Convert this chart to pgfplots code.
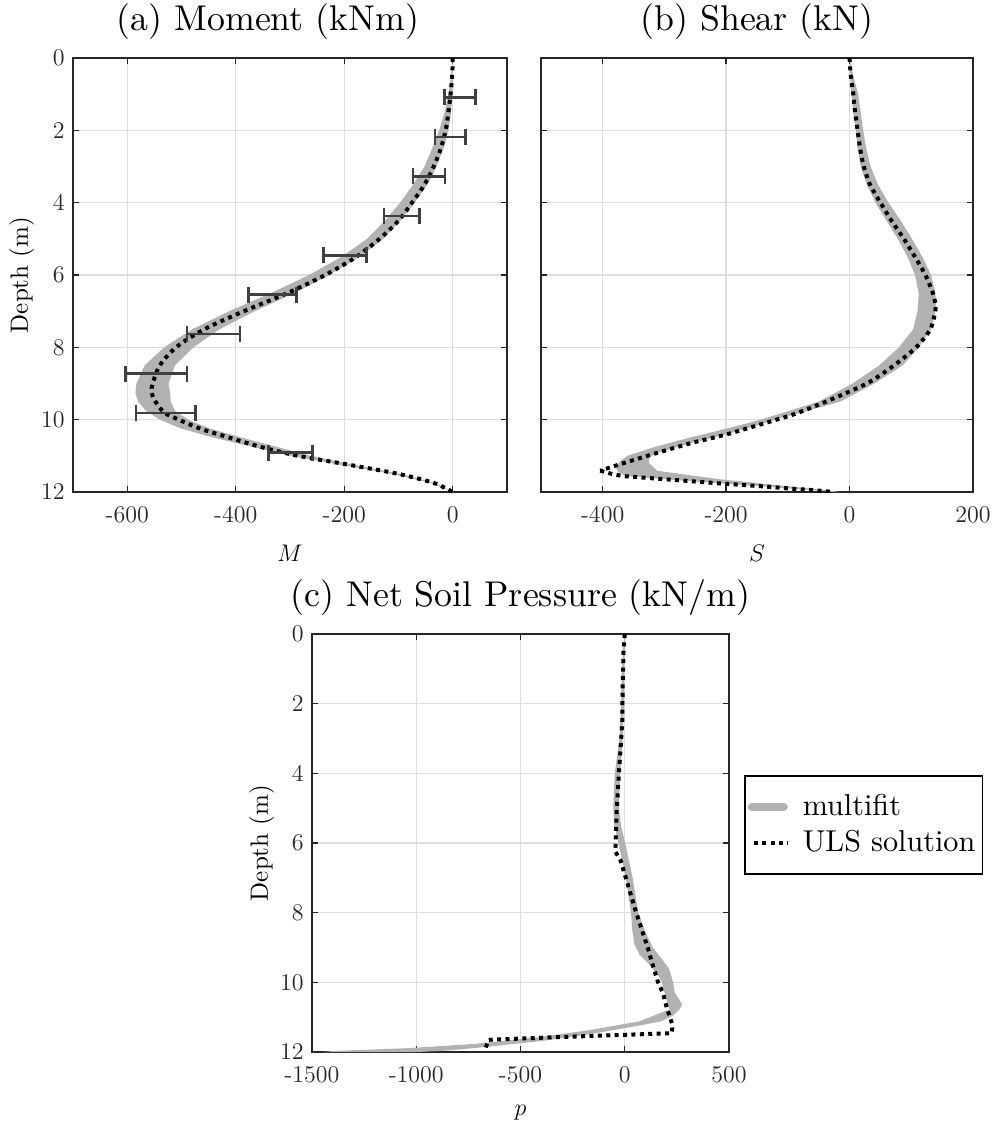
\documentclass[border=0pt]{standalone}
\usepackage{graphicx}
\usepackage{pgfplots}
\pgfplotsset{compat=1.18}
\definecolor{bandgray}{gray}{0.70}
\definecolor{axcol}{gray}{0.15}
\definecolor{errcol}{gray}{0.25}
\definecolor{gridcol}{gray}{0.87}
\newcommand\tf[1]{\scalebox{1.79}{\fontsize{10}{12}\selectfont #1}}
\newcommand\lf[1]{\scalebox{1.51}{\fontsize{10}{12}\selectfont #1}}
\newcommand\yl[1]{\scalebox{1.25}{\fontsize{10}{12}\selectfont #1}}
\pgfplotsset{
  myax/.style={
    scale only axis,
    y dir=reverse, ymin=0, ymax=12,
    ytick={0,2,4,6,8,10,12},
    tick align=inside,
    xtick pos=both, ytick pos=both,
    major tick length=3pt,
    tick style={axcol, line width=0.7pt},
    axis line style={axcol, line width=1.2pt},
    grid=major,
    major grid style={gridcol, line width=0.7pt},
    tick label style={font=\fontsize{12}{14}\selectfont, text=axcol, inner sep=0.5pt},
    xticklabel style={yshift=-6.5pt},
    yticklabel style={xshift=-3.5pt},
    every axis title shift=0pt,
    title style={font=\fontsize{10}{12}\selectfont, at={(0.5,1)}, anchor=south, yshift=5.9pt},
    xlabel style={font=\fontsize{13}{15}\selectfont, at={(axis description cs:0.5,0)}, anchor=north, inner sep=0pt, yshift=-26.5pt},
    ylabel style={font=\fontsize{12.5}{15}\selectfont, inner sep=0pt, anchor=south},
  },
  uls/.style={black, line width=2pt, dash pattern=on 2pt off 2.2pt},
  band/.style={fill=bandgray, draw=none, forget plot},
  ebar/.style={errcol, line width=1.3pt, mark=|, mark size=4pt, mark options={solid, line width=1.3pt}, forget plot},
  dotlegend/.style={legend image code/.code={\draw[##1] (3pt,0pt) -- (20pt,0pt);}},
  bandlegend/.style={legend image code/.code={\draw[bandgray, line width=4pt, line cap=round] (2pt,0pt) -- (18pt,0pt);}},
}
\begin{document}
\begin{tikzpicture}
\path[use as bounding box] (0,0) rectangle (498.5pt,-561.5pt);

% (a) Moment
\begin{axis}[myax, at={(36.5pt,-29pt)}, anchor=north west,
  width=217pt, height=217pt,
  xmin=-700, xmax=100, xtick={-600,-400,-200,0},
  xticklabels={-600,-400,-200,0},
  yticklabels={0,2,4,6,8,10,12},
  title={\tf{(a) Moment (kNm)}}, title style={xshift=-11pt},
  xlabel={$M$}, ylabel={\yl{Depth (m)}},
  ylabel style={at={(axis description cs:-0.0887,0.5)}}]
\addplot[band] coordinates {
(0,0) (-3,0.5) (-8,1) (-15,1.5) (-25,2) (-38,2.5) (-52,3) (-73,3.5) (-97,4) (-125,4.5) (-158,5) (-205,5.5) (-265,6) (-335,6.5) (-412,7) (-480,7.5) (-532,8) (-568,8.5) (-583,9) (-585,9.25) (-580,9.5) (-566,9.75) (-540,10) (-500,10.25) (-440,10.5) (-370,10.75) (-298,11) (-205,11.25) (-112,11.5) (-40,11.75) (0,12)
(-32,11.75) (-96,11.5) (-182,11.25) (-262,11) (-325,10.75) (-388,10.5) (-447,10.25) (-488,10) (-512,9.75) (-520,9.5) (-521,9.25) (-524,9) (-512,8.5) (-478,8) (-430,7.5) (-365,7) (-292,6.5) (-228,6) (-172,5.5) (-128,5) (-97,4.5) (-70,4) (-47,3.5) (-30,3) (-17,2.5) (-8,2) (-3,1.5) (-1,1) (0,0.5)
};
\addplot[uls, smooth, tension=0.5] coordinates {
(0,0) (-1,0.5) (-4,1) (-8,1.5) (-13,2) (-22,2.5) (-35,3) (-52,3.5) (-75,4) (-100,4.5) (-135,5) (-178,5.5) (-235,6) (-305,6.5) (-385,7) (-458,7.5) (-510,8) (-540,8.5) (-553,9) (-555,9.25) (-548,9.5) (-532,9.8) (-505,10) (-465,10.25) (-411,10.5) (-355,10.75) (-285,11) (-190,11.25) (-100,11.5) (-35,11.75) (0,12)
};
\addplot[ebar] coordinates {(-15,1.0909) (42,1.0909)};
\addplot[ebar] coordinates {(-33,2.1818) (23,2.1818)};
\addplot[ebar] coordinates {(-73,3.2727) (-14,3.2727)};
\addplot[ebar] coordinates {(-127,4.3636) (-61,4.3636)};
\addplot[ebar] coordinates {(-238,5.4545) (-159,5.4545)};
\addplot[ebar] coordinates {(-376,6.5455) (-288,6.5455)};
\addplot[ebar] coordinates {(-490,7.6364) (-392,7.6364)};
\addplot[ebar] coordinates {(-603,8.7273) (-490,8.7273)};
\addplot[ebar] coordinates {(-584,9.8182) (-474,9.8182)};
\addplot[ebar] coordinates {(-340,10.9091) (-258,10.9091)};
\end{axis}

% (b) Shear
\begin{axis}[myax, at={(270.5pt,-29pt)}, anchor=north west,
  width=216pt, height=217pt,
  xmin=-500, xmax=200, xtick={-400,-200,0,200},
  xticklabels={-400,-200,0,200},
  yticklabels={},
  title={\tf{(b) Shear (kN)}}, xlabel={$S$}]
\addplot[band] coordinates {
(0,0) (1,0.5) (3,1) (6,1.5) (10,2) (13,2.5) (18,3) (28,3.5) (42,4) (60,4.5) (78,5) (94,5.5) (106,6) (112,6.5) (111,6.8) (110,7) (103,7.5) (80,8) (48,8.5) (5,9) (-50,9.5) (-144,10) (-200,10.25) (-260,10.5) (-315,10.75) (-360,11) (-372,11.15) (-375,11.24) (-378,11.35) (-375,11.45) (-362,11.56) (-312,11.63) (-258,11.70) (-204,11.77) (-144,11.84) (-100,11.9) (-58,11.95) (-25,12)
(-15,12) (-50,11.93) (-95,11.85) (-150,11.75) (-204,11.66) (-258,11.54) (-312,11.41) (-325,11.2) (-325,11.05) (-312,10.92) (-255,10.64) (-200,10.41) (-144,10.13) (-120,10) (-15,9.5) (40,9) (86,8.5) (112,8) (132,7.5) (139,7) (140,6.8) (139,6.5) (132,6) (118,5.5) (101,5) (83,4.5) (63,4) (46,3.5) (34,3) (27,2.5) (22,2) (18,1.5) (14,1) (6,0.5)
};
\addplot[uls, smooth, tension=0.4] coordinates {
(0,0) (2,0.5) (6,1) (9,1.5) (13,2) (17,2.5) (23,3) (33,3.5) (50,4) (68,4.5) (88,5) (106,5.5) (123,6) (135,6.5) (139,6.8) (139,7) (131,7.5) (108,8) (72,8.5) (28,9) (-38,9.5) (-90,9.85) (-144,10.13) (-200,10.41) (-255,10.64) (-312,10.92) (-366,11.2) (-404,11.41)
};
\addplot[uls, smooth, tension=0.3] coordinates {
(-404,11.41) (-385,11.5) (-366,11.56) (-312,11.63) (-258,11.70) (-204,11.77) (-144,11.84) (-100,11.9) (-58,11.95) (-25,12)
};
\end{axis}

% (c) Net soil pressure
\begin{axis}[myax, at={(156pt,-317pt)}, anchor=north west,
  width=208.5pt, height=209pt,
  xmin=-1500, xmax=500, xtick={-1500,-1000,-500,0,500},
  xticklabels={-1500,-1000,-500,0,500},
  yticklabels={0,2,4,6,8,10,12},
  title={\tf{(c) Net Soil Pressure (kN/m)}}, xlabel={$p$}, ylabel={\yl{Depth (m)}},
  ylabel style={at={(axis description cs:-0.09,0.5)}},
  legend style={at={(axis description cs:1.036,0.6627)}, anchor=north west,
    draw=black, line width=0.8pt, font=\fontsize{15}{18}\selectfont,
    inner xsep=1.5pt, inner ysep=7.3pt, row sep=1.6pt, column sep=4.5pt,
    nodes={inner sep=2pt, text height=10.4pt, text depth=2pt}},
  legend cell align=left]
\addlegendimage{bandlegend}
\addplot[band] coordinates {
(-3,0) (-14,1) (-17,2) (-25,3) (-48,4) (-55,5) (-50,5.5) (-30,6) (-12,6.5) (5,7) (30,8) (36,8.5) (46,8.9) (70,9.2) (120,9.5) (160,9.8) (178,10) (200,10.5) (207,10.63) (214,10.78) (142,10.95) (70,11.12) (-44,11.24) (-168,11.37) (-311,11.49) (-407,11.57) (-598,11.69) (-725,11.77) (-1043,11.89) (-1393,11.97) (-1450,12)
(-1000,12) (-880,11.97) (-725,11.89) (-535,11.77) (-407,11.69) (-264,11.57) (-168,11.49) (-55,11.37) (70,11.24) (175,11.12) (232,10.95) (263,10.78) (275,10.63) (262,10.5) (240,10.3) (232,10) (212,9.6) (174,9.3) (134,9) (95,8.5) (65,8) (38,7) (20,6.5) (2,6) (-18,5.5) (-28,5) (-22,4) (-10,3) (-4,2) (-2,1) (3,0)
};
\addplot[uls, dotlegend] coordinates {
(0,0) (-6,0.5) (-10,1.5) (-12,2.5) (-17,3) (-28,4) (-38,5) (-44,6) (-45,6.25) (-20,6.5) (5,7) (55,8) (110,9) (134,9.5) (160,10) (183,10.3) (202,10.74) (226,11.17) (228,11.3) (225,11.46) (-311,11.57) (-654,11.65) (-668,11.9)
};
\legend{\lf{multifit}, \lf{ULS solution}}
\end{axis}
\end{tikzpicture}
\end{document}
